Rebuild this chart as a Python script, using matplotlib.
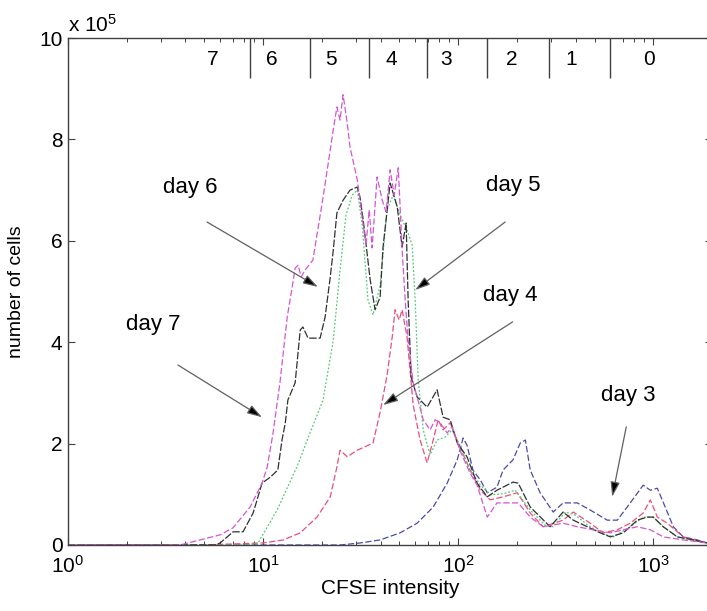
import matplotlib
matplotlib.use("Agg")
import matplotlib.pyplot as plt

plt.rcParams['font.family'] = ['Liberation Sans', 'DejaVu Sans']
plt.rcParams['mathtext.fontset'] = 'custom'
plt.rcParams['mathtext.rm'] = 'Liberation Sans'
plt.rcParams['mathtext.it'] = 'Liberation Sans:italic'

# CFSE histograms, cell counts in units of 1e5
day7_x = [1, 3.75, 4.75, 6.02, 7.02, 8.58, 9.88, 10.5, 11.25, 12.2, 13.3, 14.1, 14.6, 15.1, 15.7, 16.4,
          18.0, 20.3, 22.9, 23.9, 24.8, 25.7, 27.0, 27.9, 30.4, 32.6, 33.7, 35.0, 36.2, 38.4, 40.8,
          42.7, 44.8, 47.0, 49.3, 51.6, 53.5, 55.4, 58.8, 61.6, 66.2, 71.8, 76.2, 80.8, 87.8, 93.1,
          102, 115, 125, 141, 158, 203, 234, 273, 345, 408, 492, 602, 702, 828, 966, 1125, 1425, 1892]
day7_y = [0, 0, 0.10, 0.20, 0.34, 0.75, 1.22, 1.54, 2.21, 3.20, 4.50, 5.09, 5.46, 5.52, 5.29, 5.42,
          5.62, 6.86, 8.19, 8.64, 8.38, 8.88, 8.32, 7.85, 7.20, 6.31, 5.92, 6.61, 5.86, 7.26, 6.80,
          6.57, 7.40, 6.90, 7.44, 5.82, 4.83, 4.04, 3.20, 2.92, 2.47, 2.27, 2.47, 2.41, 2.21, 2.33,
          1.87, 1.42, 1.18, 0.55, 0.83, 0.83, 0.55, 0.36, 0.43, 0.36, 0.30, 0.24, 0.30, 0.36, 0.30,
          0.16, 0.10, 0.04]

day6_x = [1, 5.67, 6.02, 7.02, 7.89, 8.89, 9.88, 10.9, 11.9, 12.5, 13.0, 13.4, 14.6, 15.5, 16.0, 17.0,
          19.6, 20.8, 22.1, 22.9, 23.9, 25.7, 27.9, 30.4, 31.4, 32.6, 35.4, 37.5, 39.8, 41.2, 44.8,
          48.7, 51.6, 54.1, 55.4, 57.4, 61.6, 69.3, 78.0, 83.7, 91.0, 98.9, 111, 125, 141, 158, 191,
          203, 234, 296, 345, 389, 459, 535, 602, 702, 828, 931, 1000, 1125, 1327, 1603, 1892]
day6_y = [0, 0, 0.04, 0.26, 0.26, 0.63, 1.22, 1.34, 1.48, 2.07, 2.41, 2.86, 3.20, 4.24, 4.30, 4.08,
          4.08, 4.50, 5.29, 5.82, 6.55, 6.80, 7.00, 7.06, 6.86, 6.41, 5.23, 4.64, 4.89, 5.88, 7.14,
          6.67, 5.88, 6.35, 4.83, 3.31, 2.92, 2.72, 3.06, 2.52, 2.47, 2.01, 1.74, 1.22, 0.95, 1.08, 1.24,
          1.22, 0.75, 0.36, 0.65, 0.49, 0.36, 0.24, 0.16, 0.24, 0.49, 0.55, 0.55, 0.36, 0.16, 0.10, 0.04]

day5_x = [1, 8.09, 9.43, 11.8, 14.9, 17.4, 20.3, 22.9, 24.8, 26.6, 28.6, 30.4, 32.2, 34.5, 36.6, 39.8,
          43.2, 46.4, 50.4, 54.7, 58.1, 60.2, 62.4, 66.2, 71.8, 78.0, 85.8, 93.1, 102, 115, 130, 146,
          170, 196, 234, 279, 307, 354, 398, 459, 535, 624, 762, 888, 1000, 1125, 1327, 1641, 1892]
day5_y = [0, 0, 0.04, 0.69, 1.54, 2.21, 2.86, 4.04, 5.42, 6.51, 6.90, 7.00, 6.31, 4.83, 4.54, 5.13,
          6.61, 6.90, 6.51, 6.21, 5.92, 4.83, 3.25, 2.27, 1.78, 2.07, 2.13, 2.27, 1.97, 1.48, 1.18, 0.99,
          1.01, 1.08, 0.69, 0.39, 0.36, 0.65, 0.59, 0.40, 0.24, 0.16, 0.36, 0.55, 0.55, 0.36, 0.16,
          0.08, 0.04]

day4_x = [1, 4.75, 10.0, 12.7, 15.5, 18.9, 22.1, 23.9, 24.8, 27.0, 30.4, 36.6, 39.8, 43.2, 45.9, 47.5,
          49.8, 51.6, 54.7, 58.8, 63.8, 69.3, 74.5, 78.9, 83.7, 91.0, 102, 115, 130, 146, 170, 201,
          234, 273, 345, 389, 475, 554, 654, 762, 888, 966, 1049, 1180, 1425, 1892]
day4_y = [0, 0, 0.04, 0.10, 0.24, 0.55, 0.95, 1.54, 1.87, 1.74, 1.87, 2.01, 2.62, 3.35, 4.10, 4.64,
          4.44, 4.64, 4.10, 2.76, 2.07, 1.62, 2.07, 2.47, 2.27, 2.41, 1.93, 1.48, 1.08, 0.89, 0.95, 1.03,
          0.63, 0.36, 0.49, 0.65, 0.43, 0.24, 0.30, 0.43, 0.63, 0.89, 0.55, 0.43, 0.16, 0.04]

day3_x = [1, 24.8, 31.4, 39.8, 50.4, 61.6, 74.5, 87.8, 98.9, 106, 111, 119, 130, 141, 158, 170, 191,
          208, 221, 234, 263, 307, 345, 408, 475, 581, 654, 762, 888, 966, 1049, 1180, 1267, 1425,
          1683, 1892]
day3_y = [0, 0, 0.04, 0.10, 0.24, 0.43, 0.75, 1.22, 1.68, 2.11, 1.97, 1.48, 1.28, 1.03, 1.14, 1.48,
          1.68, 2.01, 2.07, 1.48, 1.03, 0.65, 0.83, 0.83, 0.69, 0.49, 0.49, 0.83, 1.18, 1.08, 1.12,
          0.65, 0.36, 0.16, 0.10, 0.04]

# division boundaries and generation numbers along the top
div_edges = [8.6, 17.4, 35.0, 69.3, 141, 293, 602]
gen_pos = [5.5, 11.1, 22.3, 45.3, 86.8, 189, 380, 954]
gen_labels = ['7', '6', '5', '4', '3', '2', '1', '0']

# annotations: label, text position, arrow tail, arrow tip
notes = [
    ('day 6', (4.22, 7.06), (5.16, 6.37), (19.1, 5.09)),
    ('day 5', (191, 7.10), (174, 6.37), (60.2, 5.03)),
    ('day 4', (185, 4.93), (190, 4.40), (41.2, 2.76)),
    ('day 7', (2.73, 4.34), (3.66, 3.55), (9.88, 2.52)),
    ('day 3', (745, 2.95), (727, 2.33), (616, 0.95)),
]

W, H = 707, 611
fig = plt.figure(figsize=(W / 100, H / 100), dpi=100)
ax = fig.add_axes([68 / W, 66 / H, 644 / W, 507 / H])

series = [
    (day3_x, day3_y, '#4a4aa8', (0, (5, 2))),
    (day4_x, day4_y, '#e8507a', (0, (5, 2))),
    (day5_x, day5_y, '#55c878', (0, (1.5, 1.5))),
    (day6_x, day6_y, '#303030', (0, (6, 1.5))),
    (day7_x, day7_y, '#d455d4', (0, (5, 2))),
]
for xs, ys, col, ls in series:
    ax.plot(xs, ys, color=col, lw=0.9, linestyle=ls)

ax.set_xscale('log')
ax.set_xlim(1, 2000)
ax.set_ylim(0, 10)
ax.set_yticks([0, 2, 4, 6, 8, 10])
ax.set_yticklabels(['0', '2', '4', '6', '8', '10'])

for s in ax.spines.values():
    s.set_color('#404040')
    s.set_linewidth(1.0)
ax.tick_params(which='major', direction='in', top=True, right=True, length=5,
               width=0.8, color='#404040', labelsize=15, pad=7)
ax.tick_params(which='minor', direction='in', top=True, right=True, length=3,
               width=0.7, color='#404040')
ax.tick_params(axis='y', pad=4)

ax.set_xlabel('CFSE intensity', fontsize=15, labelpad=2)
ax.set_ylabel('number of cells', fontsize=14, labelpad=10)
ax.text(0.0, 1.012, r'x 10$^{5}$', transform=ax.transAxes, fontsize=15,
        ha='left', va='baseline')

tr = ax.get_xaxis_transform()
ax.vlines(div_edges, 0.921, 1.0, transform=tr, color='#404040', lw=1.0)
for xp, lab in zip(gen_pos, gen_labels):
    ax.text(xp, 0.957, lab, transform=tr, ha='center', va='center', fontsize=15)

for lab, tpos, tail, tip in notes:
    ax.text(tpos[0], tpos[1], lab, ha='center', va='center', fontsize=16)
    ax.annotate('', xy=tip, xytext=tail,
                arrowprops=dict(arrowstyle='-|>,head_length=0.9,head_width=0.28',
                                ec='#606060', fc='black', lw=0.9, shrinkA=0, shrinkB=0))

fig.savefig('out.png', dpi=100)
